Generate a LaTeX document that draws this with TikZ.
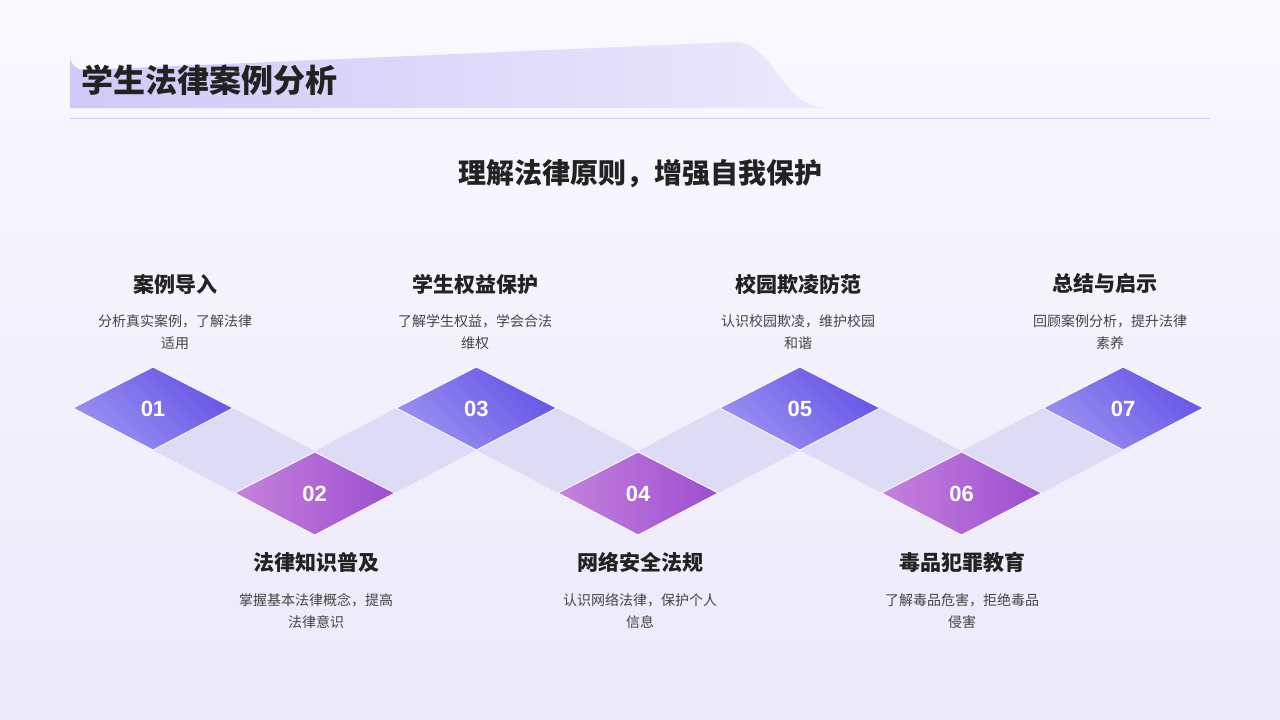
\documentclass[tikz,border=0pt]{standalone}
\usepackage{fontspec}
\setmainfont{Noto Sans CJK SC}
\newfontfamily\numfont{Liberation Sans}
\definecolor{bgA}{HTML}{FAF9FE}
\definecolor{bgB}{HTML}{ECE9FA}
\definecolor{tabA}{HTML}{CFC9F7}
\definecolor{tabB}{HTML}{ECE9FC}
\definecolor{topA}{HTML}{9A91F2}
\definecolor{topB}{HTML}{6655E6}
\definecolor{botA}{HTML}{C582DC}
\definecolor{botB}{HTML}{9C4ED0}
\definecolor{band}{HTML}{DEDBF7}
\definecolor{ink}{HTML}{222222}
\definecolor{desc}{HTML}{444444}
\tikzset{
 x=1pt,y=-1pt,
 topd/.style={left color=topA,right color=topB,shading angle=135},
 botd/.style={left color=botA,right color=botB},
 num/.style={text=white,font=\numfont\bfseries\fontsize{22}{24}\selectfont},
 head/.style={text=ink,font=\bfseries\fontsize{21}{24}\selectfont},
 txt/.style={text=desc,font=\fontsize{14}{22}\selectfont,align=center},
}
\begin{document}
\begin{tikzpicture}
\shade[top color=bgA,bottom color=bgB] (0,0) rectangle (1280,720);
\useasboundingbox (0,0) rectangle (1280,720);
\shade[left color=tabA,right color=tabB] (70,108) -- (70,56) arc[start angle=180,end angle=90,radius=14] -- (735,42) .. controls (775,42) and (780,108) .. (828,108) -- cycle;
\draw[color=tabA,line width=1pt] (70,118) -- (1210,118);
\node[anchor=west,text=ink,font=\bfseries\fontsize{32}{36}\selectfont] (title) at (78,80) {学生法律案例分析};
\node[text=ink,font=\bfseries\fontsize{28}{32}\selectfont] (sub) at (640,174) {理解法律原则，增强自我保护};
% bands
\foreach \i in {0,...,5}{
 \pgfmathsetmacro{\xa}{153+161.7*\i}
 \pgfmathsetmacro{\xb}{\xa+161.7}
 \pgfmathtruncatemacro{\odd}{mod(\i,2)}
 \ifnum\odd=0
  \fill[band] (\xa,450) -- (\xa+80,408) -- (\xb,451) -- (\xb-80,493) -- cycle;
 \else
  \fill[band] (\xa,451) -- (\xa+80,493) -- (\xb,450) -- (\xb-80,408) -- cycle;
 \fi
}
\foreach \i/\n in {0/01,2/03,4/05,6/07}{
 \pgfmathsetmacro{\xc}{153+161.7*\i}
 \shade[topd,draw=white,line width=0.8pt] (\xc-80,408) -- (\xc,367) -- (\xc+80,408) -- (\xc,450) -- cycle;
 \node[num] (n\n) at (\xc,409) {\n};
}
\foreach \i/\n in {1/02,3/04,5/06}{
 \pgfmathsetmacro{\xc}{153+161.7*\i}
 \shade[botd,draw=white,line width=0.8pt] (\xc-80,493) -- (\xc,452) -- (\xc+80,493) -- (\xc,535) -- cycle;
 \node[num] (n\n) at (\xc,494) {\n};
}
\node[head] (h1) at (175,284) {案例导入};
\node[txt] (d1) at (175,332) {分析真实案例，了解法律\\适用};
\node[head] (h3) at (475,284) {学生权益保护};
\node[txt] (d3) at (475,332) {了解学生权益，学会合法\\维权};
\node[head] (h5) at (798,284) {校园欺凌防范};
\node[txt] (d5) at (798,332) {认识校园欺凌，维护校园\\和谐};
\node[head] (h7) at (1105,284) {总结与启示};
\node[txt] (d7) at (1110,332) {回顾案例分析，提升法律\\素养};
\node[head] (h2) at (316,562) {法律知识普及};
\node[txt] (d2) at (316,611) {掌握基本法律概念，提高\\法律意识};
\node[head] (h4) at (640,562) {网络安全法规};
\node[txt] (d4) at (640,611) {认识网络法律，保护个人\\信息};
\node[head] (h6) at (962,562) {毒品犯罪教育};
\node[txt] (d6) at (962,611) {了解毒品危害，拒绝毒品\\侵害};
\end{tikzpicture}
\end{document}
